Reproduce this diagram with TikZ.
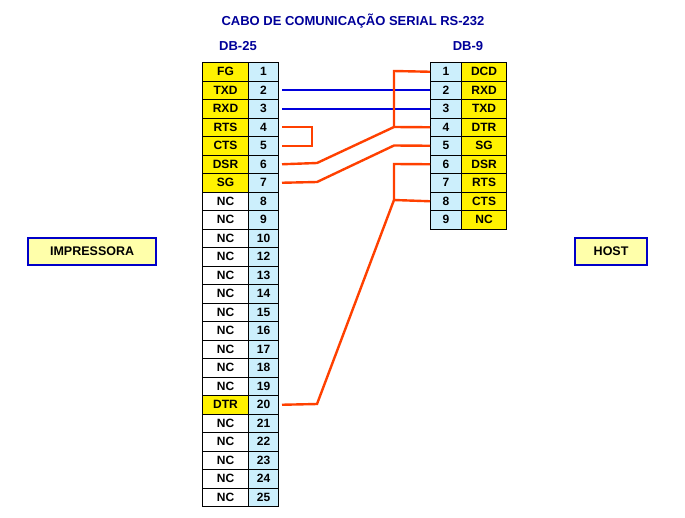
\documentclass[tikz,border=0pt]{standalone}
\usepackage{fontspec}
\setmainfont{Liberation Sans}
\begin{document}
\begin{tikzpicture}[x=1pt,y=-1pt,
  cell/.style={draw=black,line width=1pt,minimum height=18.5pt,inner sep=0pt,font=\bfseries\fontsize{12}{13}\selectfont,anchor=north west},
  nm/.style={cell,minimum width=46pt,fill=yellow},
  nc/.style={cell,minimum width=46pt,fill=white},
  pn/.style={cell,minimum width=30pt,fill=cyan!20},
  red/.style={draw={rgb,255:red,255;green,64;blue,0},line width=2.4pt},
  blu/.style={draw={rgb,255:red,0;green,0;blue,220},line width=2.4pt},
  lbl/.style={draw={rgb,255:red,0;green,0;blue,200},line width=2.2pt,fill={rgb,255:red,255;green,255;blue,170},font=\bfseries\fontsize{12.5}{14}\selectfont,inner xsep=0pt,minimum height=27pt,anchor=north west},
  ttl/.style={text={rgb,255:red,0;green,0;blue,153},font=\bfseries\fontsize{13}{15}\selectfont}]
\useasboundingbox (0,0) rectangle (685,517);
\node[ttl] (title) at (353,21) {CABO DE COMUNICAÇÃO SERIAL RS-232};
\node[ttl] (h25) at (238,46) {DB-25};
\node[ttl] (h9) at (468,46) {DB-9};
% DB-25
\foreach \i/\n/\s/\p in {1/FG/nm/1,2/TXD/nm/2,3/RXD/nm/3,4/RTS/nm/4,5/CTS/nm/5,6/DSR/nm/6,7/SG/nm/7,8/NC/nc/8,9/NC/nc/9,10/NC/nc/10,11/NC/nc/12,12/NC/nc/13,13/NC/nc/14,14/NC/nc/15,15/NC/nc/16,16/NC/nc/17,17/NC/nc/18,18/NC/nc/19,19/DTR/nm/20,20/NC/nc/21,21/NC/nc/22,22/NC/nc/23,23/NC/nc/24,24/NC/nc/25}{
  \node[\s] (a\i) at (202,{62+(\i-1)*18.5}) {\n};
  \node[pn] (b\i) at (248,{62+(\i-1)*18.5}) {\p};
}
% DB-9
\foreach \i/\n in {1/DCD,2/RXD,3/TXD,4/DTR,5/SG,6/DSR,7/RTS,8/CTS,9/NC}{
  \node[pn,minimum width=31pt] (c\i) at (430,{62+(\i-1)*18.5}) {\i};
  \node[nm,minimum width=45pt] (d\i) at (461,{62+(\i-1)*18.5}) {\n};
}
\node[lbl,minimum width=128pt] (imp) at (27,237) {IMPRESSORA};
\node[lbl,minimum width=72pt] (host) at (574,237) {HOST};
% wires
\draw[blu] ([xshift=3pt]b2.east) -- (c2.west);
\draw[blu] ([xshift=3pt]b3.east) -- (c3.west);
\draw[red] ([xshift=3pt]b4.east) -- ++(30,0) |- ([xshift=3pt]b5.east);
\draw[red] ([xshift=3pt]b6.east) -- (317,163) -- (394,127) -- (c4.west);
\draw[red] ([xshift=3pt]b7.east) -- (317,182) -- (394,145.5) -- (c5.west);
\draw[red] (c1.west) -- (394,71) -- (394,127);
\draw[red] (c6.west) -- (394,164) -- (394,200) -- (c8.west);
\draw[red] (394,200) -- (317,404) -- ([xshift=3pt]b19.east);
\end{tikzpicture}
\end{document}
